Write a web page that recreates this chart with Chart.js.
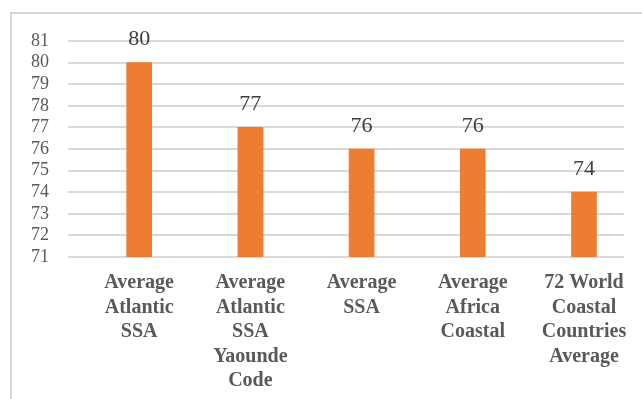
<!DOCTYPE html>
<html>
<head>
<meta charset="utf-8">
<script src="https://cdn.jsdelivr.net/npm/chart.js@4/dist/chart.umd.min.js"></script>
<style>
  body { margin: 0; background: #fff; }
  #wrap { position: relative; width: 642px; height: 399px; overflow: hidden; }
  #frame { position: absolute; left: 10px; top: 12px; width: 700px; height: 500px;
           border-top: 2px solid #d6d6d6; border-left: 2px solid #d6d6d6; }
  #chart { position: absolute; left: 0; top: 0; }
</style>
</head>
<body>
<div id="wrap">
  <div id="frame"></div>
  <canvas id="chart" width="642" height="399"></canvas>
</div>
<script>
// --- DATA ---
const categories = [
    ['Average', 'Atlantic', 'SSA'],
    ['Average', 'Atlantic', 'SSA', 'Yaounde', 'Code'],
    ['Average', 'SSA'],
    ['Average', 'Africa', 'Coastal'],
    ['72 World', 'Coastal', 'Countries', 'Average']
];
const values = [80, 77, 76, 76, 74];
const yTicks = [71, 72, 73, 74, 75, 76, 77, 78, 79, 80, 81];

// --- STYLE ---
const barColor = '#ED7D31';
const gridColor = '#d9d9d9';
const textColor = '#595959';
const serif = "'Liberation Serif', 'DejaVu Serif', serif";

// value labels above each bar
const valueLabels = {
    id: 'valueLabels',
    afterDatasetsDraw(chart) {
        const ctx = chart.ctx;
        const meta = chart.getDatasetMeta(0);
        ctx.save();
        ctx.font = '22px ' + serif;
        ctx.fillStyle = '#404040';
        ctx.textAlign = 'center';
        ctx.textBaseline = 'middle';
        meta.data.forEach((bar, i) => {
            ctx.fillText(String(values[i]), bar.x, bar.y - 23);
        });
        ctx.restore();
    }
};

new Chart(document.getElementById('chart'), {
    type: 'bar',
    data: {
        datasets: [{
            data: values.map((v, i) => ({ x: i, y: v })),
            backgroundColor: barColor,
            barThickness: 25
        }]
    },
    options: {
        responsive: false,
        animation: false,
        layout: { padding: { top: 41, right: 18, left: 0, bottom: 0 } },
        plugins: { legend: { display: false }, tooltip: { enabled: false } },
        scales: {
            x: {
                type: 'linear',
                offset: false,
                min: -0.64,
                max: 4.36,
                afterBuildTicks: (scale) => { scale.ticks = categories.map((_, i) => ({ value: i })); },
                afterFit: (scale) => { scale.height = 142; },
                grid: { display: false, drawTicks: false },
                border: { display: false },
                ticks: {
                    autoSkip: false,
                    maxRotation: 0,
                    padding: 14,
                    color: textColor,
                    font: { family: serif, size: 20, weight: 'bold', lineHeight: 1.22 },
                    callback: (v) => categories[v]
                }
            },
            y: {
                min: yTicks[0],
                max: yTicks[yTicks.length - 1],
                afterBuildTicks: (scale) => { scale.ticks = yTicks.map(v => ({ value: v })); },
                afterFit: (scale) => { scale.width = 68; },
                grid: { color: gridColor, lineWidth: 2, drawTicks: false },
                border: { display: false },
                ticks: {
                    autoSkip: false,
                    padding: 19,
                    color: textColor,
                    font: { family: serif, size: 18 }
                }
            }
        }
    },
    plugins: [valueLabels]
});
</script>
</body>
</html>
